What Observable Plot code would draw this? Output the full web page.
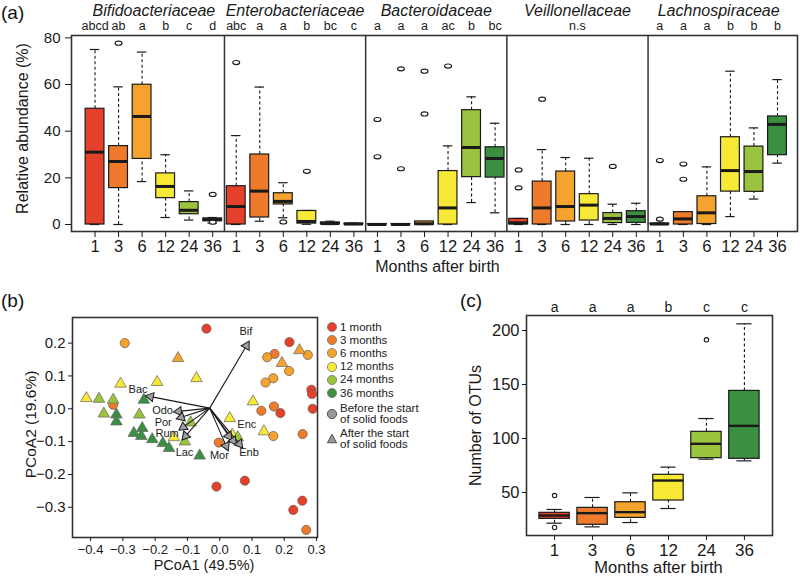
<!DOCTYPE html>
<html><head><meta charset="utf-8">
<script src="https://cdn.jsdelivr.net/npm/d3@7"></script>
<script src="https://cdn.jsdelivr.net/npm/@observablehq/plot@0.6"></script>
<style>
body{margin:0;background:#fff;}
#root{position:relative;width:800px;height:577px;overflow:hidden;background:#fff;font-family:"Liberation Sans",Arial,Helvetica,sans-serif;color:#111;}
.panel{position:absolute;}
.plabel{position:absolute;font-size:19px;line-height:19px;}
.leg{position:absolute;font-size:11.5px;line-height:11px;color:#222;white-space:nowrap;}
.leg svg{position:absolute;left:0;}
</style></head><body>
<div id="root">
  <div class="plabel" style="left:1px;top:3px">(a)</div>
  <div class="plabel" style="left:1px;top:291px">(b)</div>
  <div class="plabel" style="left:460px;top:291px">(c)</div>
  <div class="panel" id="pa" style="left:0;top:0"></div>
  <div class="panel" id="pb" style="left:0;top:300px"></div>
  <div class="panel" id="pc" style="left:460px;top:300px"></div>
  <div id="legend"></div>
</div>
<script>
// ---------- data ----------
const months = ["1", "3", "6", "12", "24", "36"];
const monthLegend = ["1 month", "3 months", "6 months", "12 months", "24 months", "36 months"];
const monthColors = ["#e5402c", "#ee7b2b", "#f4a42e", "#f7e936", "#9ac43d", "#3b8f41"];
const families = ["Bifidoacteriaceae", "Enterobacteriaceae", "Bacteroidaceae", "Veillonellaceae", "Lachnospiraceae"];
const familyLetters = [
  ["abcd", "ab", "a", "b", "c", "d"],
  ["abc", "a", "a", "b", "bc", "c"],
  ["a", "a", "a", "ac", "b", "bc"],
  ["", "", "", "", "", ""],
  ["a", "a", "a", "b", "b", "b"]
];
const veilLetter = "n.s";

// [lower whisker, Q1, median, Q3, upper whisker] per month (relative abundance, %)
const bifidoStats = [[0, 0, 31, 49.6, 75], [0, 15.6, 27, 33.6, 59], [18.4, 28.1, 46.3, 59.9, 73.9], [3.0, 11.3, 16.3, 21.9, 29.9], [1.9, 4.4, 6.1, 9.6, 14.4], [0.6, 1.4, 2.1, 2.6, 3.0]];
const enteroStats = [[0, 0, 7.7, 16.4, 38.1], [1.4, 3, 14.3, 30, 58.9], [2.9, 8.6, 9.9, 13.4, 17.9], [0.1, 0.4, 1.3, 5.8, 6.0], [0, 0.1, 0.4, 0.9, 1.4], [0, 0, 0.2, 0.4, 0.6]];
const bacteroStats = [[0, 0, 0, 0.2, 0.4], [0, 0, 0, 0.2, 0.4], [0, 0, 0.3, 1.3, 1.3], [0, 0, 7.1, 22.9, 33.7], [9.4, 20.3, 33, 49, 54.7], [5, 20.1, 28.3, 33.1, 43.4]];
const veilStats = [[0, 0, 0.7, 2.4, 2.6], [0, 0, 7.1, 18.4, 32.1], [0, 1.3, 7.7, 22.7, 28.7], [0, 1.7, 8.3, 13, 28.4], [0, 0.6, 2.6, 4.9, 8.7], [0, 0.7, 3.4, 5.7, 9.1]];
const lachnoStats = [[0, 0, 0.2, 0.4, 0.6], [0, 0, 2.4, 5.3, 5.3], [0, 0.2, 5, 12.1, 24.7], [3.4, 14.1, 23.1, 37.4, 65.7], [10.9, 14, 22.7, 33.4, 41.4], [26.3, 29.7, 42.9, 46.3, 62.1]];
// outliers: [month index, value]
const bifidoOut = [[1, 77.7], [5, 12.9], [5, 1.0]];
const enteroOut = [[0, 69.4], [2, 1.1], [3, 22.8]];
const bacteroOut = [[0, 45], [0, 29], [1, 66.7], [1, 23.9], [2, 65.7], [2, 47.4], [3, 67.9]];
const veilOut = [[0, 23.4], [0, 15.7], [1, 53.7], [4, 24.9]];
const lachnoOut = [[0, 27.4], [0, 2.3], [1, 25.9], [1, 19.4]];

// PCoA scores
const pcoaX = [-0.041,-0.294,0.216,-0.129,0.170,0.147,0.247,0.273,0.193,0.215,
  -0.072,-0.307,-0.194,0.166,0.142,0.284,0.286,-0.413,-0.374,-0.330,
  -0.330,-0.235,0.103,-0.359,-0.320,-0.320,-0.249,0.288,0.129,0.168,
  0.188,0.031,-0.090,-0.266,-0.240,-0.243,-0.209,-0.176,-0.157,-0.062,
  -0.108,-0.142,0.137,0.166,0.257,-0.003,0.039,0.056,-0.010,0.078,
  0.256,0.228,0.268];
const pcoaY = [0.244,0.200,0.203,0.154,0.167,0.157,0.178,0.164,0.139,0.115,
  0.093,0.076,0.081,0.093,0.080,0.058,0.045,0.032,0.030,0.012,
  0.027,0.027,0.022,-0.015,-0.018,-0.039,-0.018,0.000,-0.006,0.007,
  -0.013,-0.029,-0.042,-0.074,-0.059,-0.083,-0.093,-0.105,-0.120,-0.143,
  -0.100,-0.087,-0.069,-0.083,-0.077,-0.103,-0.079,-0.087,-0.237,-0.219,
  -0.280,-0.308,-0.369];
const pcoaMonth = [0,2,0,2,1,2,2,2,2,2, 3,3,3,2,2,0,0,3,4,1, 4,5,3,4,5,5,4,0,1,1, 0,3,4,5,5,5,5,5,5,5, 4,3,3,2,1,1,3,4,0,0, 0,0,1];
const pcoaSolid = [0,0,0,1,0,0,1,0,1,0, 1,1,1,0,0,0,0,1,1,0, 1,1,1,1,1,1,1,0,0,0, 0,1,1,1,1,1,1,1,1,1, 1,1,1,0,0,0,1,1,0,0, 0,0,0];
// fitted family vectors
const arrowOrigin = [-0.031, 0.002];
const arrowNames = ["Bif", "Bac", "Odo", "Por", "Rum", "Lac", "Enc", "", "Enb", "Mor"];
const arrowX = [0.083, -0.214, -0.127, -0.119, -0.113, -0.106, 0.028, 0.042, 0.061, 0.020];
const arrowY = [0.192, 0.037, -0.008, -0.026, -0.056, -0.083, -0.083, -0.097, -0.107, -0.113];
const labelX = [0.081, -0.253, -0.177, -0.175, -0.163, -0.109, 0.084, null, 0.091, -0.001];
const labelY = [0.236, 0.060, -0.006, -0.042, -0.074, -0.133, -0.047, null, -0.133, -0.142];

// Number of OTUs
const otuStats = [[21.6, 25.6, 28.7, 31.2, 34.3], [18.2, 20.1, 30.9, 35.8, 45.4], [22.2, 26.5, 31.8, 41.0, 49.7], [35.2, 42.6, 61.1, 66.4, 73.5], [80.9, 81.8, 95.1, 106.2, 118.5], [79.3, 81.2, 111.7, 144.1, 206.2]];
const otuOut = [[0, 47.2], [0, 17.6], [4, 191.4]];
const otuLetters = ["a", "a", "a", "b", "c", "c"];

// ---------- helpers ----------
const FONT = "'Liberation Sans', Arial, Helvetica, sans-serif";
const INK = "#1a1a1a";
const ellipse = {draw(ctx, size) {
  const r = Math.sqrt(size / Math.PI), rx = r * 1.15, ry = r * 0.68, k = 0.5523;
  ctx.moveTo(rx, 0);
  ctx.bezierCurveTo(rx, ry * k, rx * k, ry, 0, ry);
  ctx.bezierCurveTo(-rx * k, ry, -rx, ry * k, -rx, 0);
  ctx.bezierCurveTo(-rx, -ry * k, -rx * k, -ry, 0, -ry);
  ctx.bezierCurveTo(rx * k, -ry, rx, -ry * k, rx, 0);
  ctx.closePath();
}};
function toBoxes(stats, offset) {
  return stats.map((s, m) => ({pos: offset + m + 1, m, lo: s[0], q1: s[1], med: s[2], q3: s[3], hi: s[4]}));
}
function boxMarks(boxes, outs, W, C, outSymbol, outR, medW) {
  return [
    Plot.ruleX(boxes.filter(d => d.hi > d.q3), {x: "pos", y1: "q3", y2: "hi", stroke: INK, strokeWidth: 1.1, strokeDasharray: "3,2.5"}),
    Plot.ruleX(boxes.filter(d => d.q1 > d.lo), {x: "pos", y1: "lo", y2: "q1", stroke: INK, strokeWidth: 1.1, strokeDasharray: "3,2.5"}),
    Plot.ruleY(boxes, {y: "hi", x1: d => d.pos - C, x2: d => d.pos + C, stroke: INK, strokeWidth: 1.2}),
    Plot.ruleY(boxes, {y: "lo", x1: d => d.pos - C, x2: d => d.pos + C, stroke: INK, strokeWidth: 1.2}),
    Plot.rect(boxes, {x1: d => d.pos - W, x2: d => d.pos + W, y1: "q1", y2: "q3", fill: d => monthColors[d.m], stroke: INK, strokeWidth: 1.2}),
    Plot.ruleY(boxes, {y: "med", x1: d => d.pos - W, x2: d => d.pos + W, stroke: INK, strokeWidth: medW}),
    Plot.dot(outs, {x: "pos", y: "v", symbol: outSymbol, r: outR, stroke: INK, strokeWidth: 1.1, fill: "white"})
  ];
}
const baseStyle = {fontFamily: FONT, fontSize: "15px", color: INK, background: "transparent", overflow: "visible"};

// ---------- panel (a) ----------
const statsA = [bifidoStats, enteroStats, bacteroStats, veilStats, lachnoStats];
const outsA = [bifidoOut, enteroOut, bacteroOut, veilOut, lachnoOut];
const boxesA = statsA.flatMap((st, f) => toBoxes(st, f * 6));
const outA = outsA.flatMap((o, f) => o.map(([m, v]) => ({pos: f * 6 + m + 1, v})));
const lettersA = familyLetters.flatMap((ls, f) => ls.map((t, m) => ({pos: f * 6 + m + 1, t}))).filter(d => d.t);
lettersA.push({pos: 21.5, t: veilLetter});
const positionsA = d3.range(1, 31);

const plotA = Plot.plot({
  width: 800, height: 290,
  marginLeft: 71, marginRight: 3, marginTop: 35, marginBottom: 59,
  x: {domain: [0, 30.85]}, y: {domain: [-3, 81]},
  style: baseStyle,
  marks: [
    ...boxMarks(boxesA, outA, 0.4, 0.2, ellipse, 3, 3),
    Plot.ruleX([6.5, 12.5, 18.5, 24.5], {stroke: "#333", strokeWidth: 1.5}),
    Plot.frame({stroke: "#333", strokeWidth: 1.6}),
    Plot.axisY({ticks: [0, 20, 40, 60, 80], tickSize: 6, tickPadding: 5, label: null, fontSize: 15}),
    Plot.axisX({ticks: positionsA, tickFormat: d => months[(d - 1) % 6], tickSize: 6, tickPadding: 3, label: null, fontSize: 16.5}),
    Plot.text(families, {x: (d, i) => i * 6 + 3.5, frameAnchor: "top", dy: -25, textAnchor: "middle", lineAnchor: "middle", fontStyle: "italic", fontSize: 16}),
    Plot.text(lettersA, {x: "pos", text: "t", frameAnchor: "top", dy: -10, textAnchor: "middle", lineAnchor: "middle", fontSize: 12.5}),
    Plot.text(["Relative abundance (%)"], {frameAnchor: "left", dx: -49, dy: -5, rotate: -90, textAnchor: "middle", lineAnchor: "middle", fontSize: 16}),
    Plot.text(["Months after birth"], {frameAnchor: "bottom", dx: 3, dy: 35, textAnchor: "middle", lineAnchor: "middle", fontSize: 16})
  ]
});
document.getElementById("pa").append(plotA);

// ---------- panel (b) ----------
const pts = pcoaX.map((x, i) => ({x, y: pcoaY[i], m: pcoaMonth[i], s: pcoaSolid[i]}));
const domX = [-0.456, 0.303], domY = [-0.392, 0.278];
const bW = 322, bH = 277, bML = 72, bMR = 5, bMT = 17, bMB = 40;
const kx = (bW - bML - bMR) / (domX[1] - domX[0]);
const ky = (bH - bMT - bMB) / (domY[1] - domY[0]);
const arrows = arrowNames.map((n, i) => ({n, x: arrowX[i], y: arrowY[i], lx: labelX[i], ly: labelY[i],
  a: Math.atan2((arrowX[i] - arrowOrigin[0]) * kx, (arrowY[i] - arrowOrigin[1]) * ky) * 180 / Math.PI}));

const plotB = Plot.plot({
  width: bW, height: bH,
  marginLeft: bML, marginRight: bMR, marginTop: bMT, marginBottom: bMB,
  x: {domain: domX}, y: {domain: domY},
  style: baseStyle,
  marks: [
    Plot.dot(pts.filter(d => d.s === 0), {x: "x", y: "y", r: 4.6, fill: d => monthColors[d.m], stroke: "#6a5a50", strokeWidth: 0.9, strokeOpacity: 0.8}),
    Plot.dot(pts.filter(d => d.s === 1), {x: "x", y: "y", r: 4.3, symbol: "triangle", fill: d => monthColors[d.m], stroke: "#666", strokeWidth: 0.9, strokeOpacity: 0.8}),
    Plot.link(arrows, {x1: arrowOrigin[0], y1: arrowOrigin[1], x2: "x", y2: "y", stroke: INK, strokeWidth: 1.1}),
    Plot.dot(arrows, {x: "x", y: "y", r: 3.4, symbol: "triangle", rotate: "a", fill: "#a0a0a0", stroke: INK, strokeWidth: 1}),
    Plot.text(arrows.filter(d => d.n), {x: "lx", y: "ly", text: "n", fontSize: 11, textAnchor: "middle", lineAnchor: "middle"}),
    Plot.frame({stroke: "#333", strokeWidth: 1.6}),
    Plot.axisY({ticks: [-0.3, -0.2, -0.1, 0, 0.1, 0.2], tickFormat: d3.format(".1f"), tickSize: 4, tickPadding: 3, label: null, fontSize: 15}),
    Plot.axisX({ticks: [-0.4, -0.3, -0.2, -0.1, 0, 0.1, 0.2, 0.3], tickFormat: d3.format(".1f"), tickSize: 4, tickPadding: 3, label: null, fontSize: 13}),
    Plot.text(["PCoA2 (19.6%)"], {frameAnchor: "left", dx: -41, dy: -3, rotate: -90, textAnchor: "middle", lineAnchor: "middle", fontSize: 15.5}),
    Plot.text(["PCoA1 (49.5%)"], {frameAnchor: "bottom", dx: 9, dy: 28, textAnchor: "middle", lineAnchor: "middle", fontSize: 14.5})
  ]
});
document.getElementById("pb").append(plotB);

// legend for (b)
const legend = document.getElementById("legend");
function legItem(cy, lines, symbolSvg, symOffset) {
  const sym = document.createElement("div");
  sym.className = "leg";
  sym.style.left = "326px";
  sym.style.top = (cy + symOffset - 6) + "px";
  sym.innerHTML = `<svg width="12" height="12" style="top:0">${symbolSvg}</svg>`;
  legend.append(sym);
  lines.forEach((t, j) => {
    const div = document.createElement("div");
    div.className = "leg";
    div.style.left = "340px";
    div.style.top = (cy - 5.5 + j * 11) + "px";
    div.textContent = t;
    legend.append(div);
  });
}
monthLegend.forEach((t, i) => legItem(327 + i * 13.2, [t],
  `<circle cx="6" cy="6" r="4.6" fill="${monthColors[i]}" stroke="#777" stroke-width="0.8"/>`, 0));
legItem(408.5, ["Before the start", "of solid foods"], `<circle cx="6" cy="6" r="4.6" fill="#999" stroke="#444" stroke-width="0.9"/>`, 5.5);
legItem(433.5, ["After the start", "of solid foods"], `<path d="M6,1.2 L10.6,9.8 L1.4,9.8 Z" fill="#999" stroke="#444" stroke-width="0.9"/>`, 5.5);

// ---------- panel (c) ----------
const boxesC = toBoxes(otuStats, 0);
const outC = otuOut.map(([m, v]) => ({pos: m + 1, v}));
const lettersC = otuLetters.map((t, m) => ({pos: m + 1, t}));

const plotC = Plot.plot({
  width: 340, height: 277,
  marginLeft: 66, marginRight: 28, marginTop: 15, marginBottom: 42,
  x: {domain: [0.26, 6.74]}, y: {domain: [10.2, 213.9]},
  style: baseStyle,
  marks: [
    ...boxMarks(boxesC, outC, 0.4, 0.2, "circle", 2.2, 2.4),
    Plot.frame({stroke: "#333", strokeWidth: 1.6}),
    Plot.axisY({ticks: [50, 100, 150, 200], tickSize: 4, tickPadding: 3, label: null, fontSize: 16.5}),
    Plot.axisX({ticks: [1, 2, 3, 4, 5, 6], tickFormat: d => months[d - 1], tickSize: 5, tickPadding: 3, label: null, fontSize: 17}),
    Plot.text(lettersC, {x: "pos", text: "t", frameAnchor: "top", dy: -8, textAnchor: "middle", lineAnchor: "middle", fontSize: 14}),
    Plot.text(["Number of OTUs"], {frameAnchor: "left", dx: -51, rotate: -90, textAnchor: "middle", lineAnchor: "middle", fontSize: 16}),
    Plot.text(["Months after birth"], {frameAnchor: "bottom", dx: 9, dy: 32, textAnchor: "middle", lineAnchor: "middle", fontSize: 16.5})
  ]
});
document.getElementById("pc").append(plotC);
</script>
</body></html>
